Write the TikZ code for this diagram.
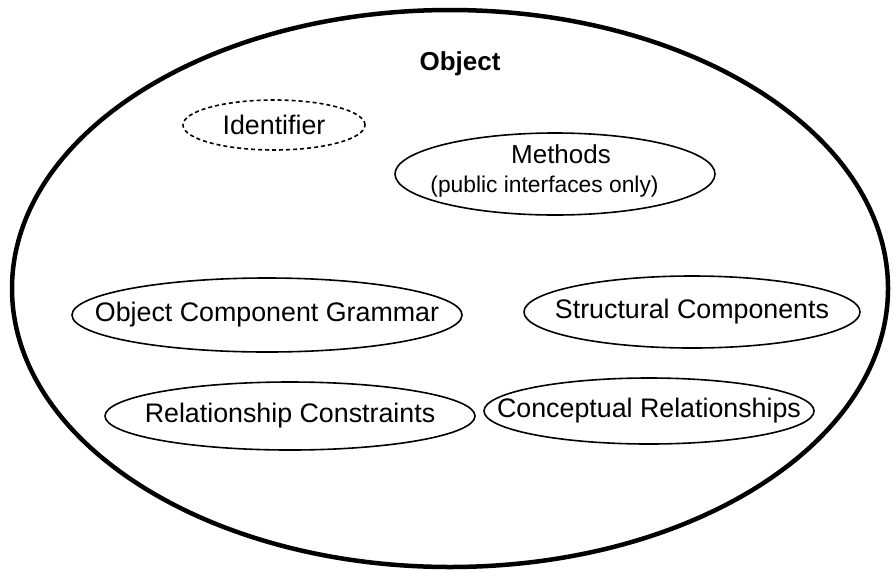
\documentclass[tikz,border=0pt]{standalone}
\usepackage{fontspec}
\setmainfont{Liberation Sans}
\usetikzlibrary{shapes.geometric}
\newcommand{\zw}[1]{\makebox[0pt][c]{#1}}
\tikzset{
  part/.style={ellipse, draw=black, line width=1.6pt, inner sep=0pt, font=\fontsize{26.8}{30}\selectfont},
  outer/.style={ellipse, draw=black, line width=4.5pt, inner sep=0pt},
  txt/.style={inner sep=0pt, anchor=base},
}
\begin{document}
\begin{tikzpicture}[x=1pt,y=-1pt]
\useasboundingbox (0,0) rectangle (893,571);
\node[outer, minimum width=876pt, minimum height=557pt] (obj) at (450,288.5) {};
\node[txt, font=\bfseries\fontsize{26}{30}\selectfont] (objlabel) at (460,70) {Object};
\node[part, dashed, dash pattern=on 4pt off 3pt, minimum width=182pt, minimum height=50pt] (ident) at (274,125) {\zw{Identifier}};
\node[part, minimum width=320pt, minimum height=82pt] (meth) at (555,174) {};
\node[txt, font=\fontsize{26}{30}\selectfont] (methA) at (561,163) {Methods};
\node[txt, font=\fontsize{22.8}{26}\selectfont] (methB) at (544.5,192) {(public interfaces only)};
\node[part, minimum width=390pt, minimum height=74pt] (ocg) at (267,315) {\zw{Object Component Grammar}};
\node[part, minimum width=336pt, minimum height=72pt] (sc) at (692,312) {\zw{Structural Components}};
\node[part, minimum width=370pt, minimum height=68pt] (rc) at (290,416) {\zw{Relationship Constraints}};
\node[part, minimum width=330pt, minimum height=66pt] (cr) at (649,411) {\zw{Conceptual Relationships}};
\end{tikzpicture}
\end{document}
